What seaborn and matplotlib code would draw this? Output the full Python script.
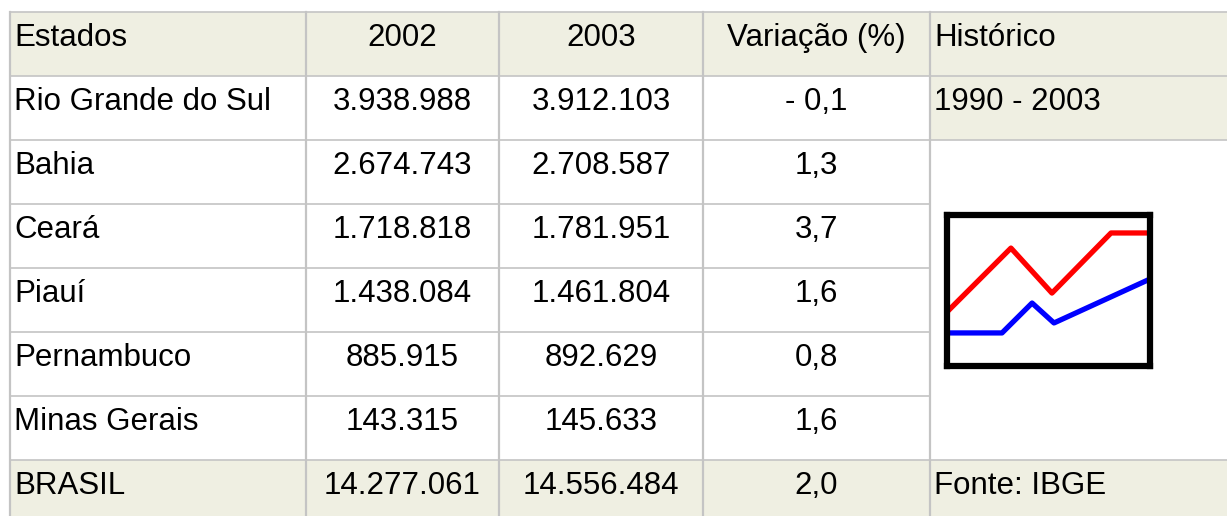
import numpy as np
import pandas as pd
import matplotlib
matplotlib.use("Agg")
import matplotlib.pyplot as plt
import seaborn as sns

# dados da tabela
header = ["Estados", "2002", "2003", "Variação (%)", "Histórico"]
estados = ["Rio Grande do Sul", "Bahia", "Ceará", "Piauí", "Pernambuco", "Minas Gerais", "BRASIL"]
v2002 = ["3.938.988", "2.674.743", "1.718.818", "1.438.084", "885.915", "143.315", "14.277.061"]
v2003 = ["3.912.103", "2.708.587", "1.781.951", "1.461.804", "892.629", "145.633", "14.556.484"]
variacao = ["- 0,1", "1,3", "3,7", "1,6", "0,8", "1,6", "2,0"]
periodo = "1990 - 2003"
fonte = "Fonte: IBGE"

# mini grafico do historico (esboço)
hist_x = [0, 31.5, 51.7, 80.8, 100]
hist_red = [35.8, 78.1, 48.3, 88.1, 88.1]
hist_x2 = [0, 27.1, 41.9, 52.7, 100]
hist_blue = [21.9, 21.9, 41.7, 28.5, 57.6]

W, H = 1227, 516
bege = "#efefe2"
cinza = "#c4c4c4"

plt.rcParams["font.family"] = ["Liberation Sans", "DejaVu Sans"]
fig = plt.figure(figsize=(W / 100, H / 100), dpi=100)
ax = fig.add_axes([0, 0, 1, 1])
ax.set_xlim(0, W)
ax.set_ylim(H, 0)
ax.axis("off")

cols = [10, 306, 499, 703, 930, W]
rows = [12 + 64 * i for i in range(9)]
fs = 22.5

# fundos
ax.add_patch(plt.Rectangle((cols[0], rows[0]), W - cols[0], 64, color=bege, lw=0))
ax.add_patch(plt.Rectangle((cols[0], rows[7]), W - cols[0], 64, color=bege, lw=0))
ax.add_patch(plt.Rectangle((cols[4], rows[1]), W - cols[4], 64, color=bege, lw=0))

# linhas horizontais
for i, y in enumerate(rows[:8]):
    x1 = W if i in (0, 1, 2, 7) else cols[4]
    ax.plot([cols[0], x1], [y, y], color=cinza, lw=1.2)
# linhas verticais
for x in cols[:5]:
    ax.plot([x, x], [rows[0], H], color=cinza, lw=1.6)

# textos
def cell(r, c, s):
    top = rows[r]
    if c == 0 or c == 4:
        ax.text(cols[c] + 4, top + 34, s, ha="left", va="baseline", fontsize=fs)
    else:
        ax.text((cols[c] + cols[c + 1]) / 2, top + 34, s, ha="center", va="baseline", fontsize=fs)

for c, s in enumerate(header):
    cell(0, c, s)
for r in range(len(estados)):
    cell(r + 1, 0, estados[r])
    cell(r + 1, 1, v2002[r])
    cell(r + 1, 2, v2003[r])
    cell(r + 1, 3, variacao[r])
cell(1, 4, periodo)
cell(7, 4, fonte)

# icone do historico
ins = fig.add_axes([947 / W, 1 - 366 / H, 203 / W, 151 / H])
df = pd.DataFrame({"x": hist_x + hist_x2, "y": hist_red + hist_blue,
                   "serie": ["a"] * 5 + ["b"] * 5})
sns.lineplot(data=df, x="x", y="y", hue="serie", palette=["#ff0000", "#0000ff"],
             lw=3.8, legend=False, ax=ins, sort=False)
ins.set_xlim(0, 100)
ins.set_ylim(0, 100)
ins.set_xticks([])
ins.set_yticks([])
ins.set_xlabel("")
ins.set_ylabel("")
for sp in ins.spines.values():
    sp.set_linewidth(4.5)
    sp.set_color("black")

fig.savefig("out.png", dpi=100)
